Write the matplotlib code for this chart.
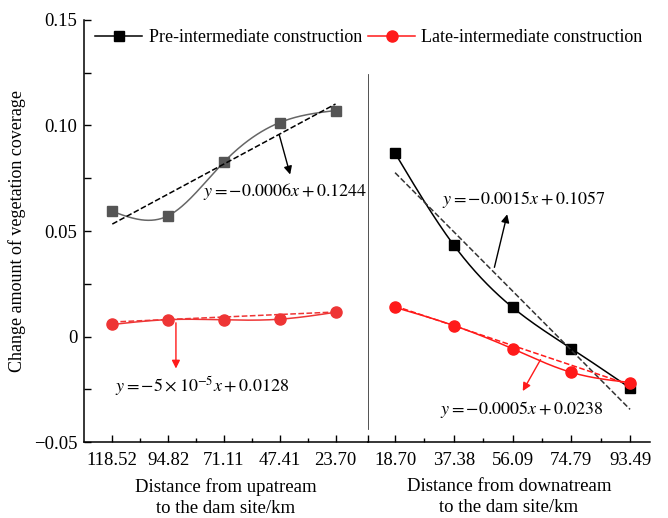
import numpy as np
import matplotlib.pyplot as plt
from matplotlib.ticker import FixedLocator

plt.rcParams['font.family'] = ['Liberation Serif', 'DejaVu Serif']
plt.rcParams['mathtext.fontset'] = 'stix'
plt.rcParams['font.size'] = 13

# data
up_labels = ['118.52', '94.82', '71.11', '47.41', '23.70']
down_labels = ['18.70', '37.38', '56.09', '74.79', '93.49']
up_dist = np.array([118.52, 94.82, 71.11, 47.41, 23.70])
down_dist = np.array([18.70, 37.38, 56.09, 74.79, 93.49])

up_pre = [0.0593, 0.0572, 0.0827, 0.1014, 0.1071]
up_late = [0.0057, 0.0080, 0.0079, 0.0082, 0.0115]
down_pre = [0.0869, 0.0433, 0.0138, -0.0057, -0.0244]
down_late = [0.0138, 0.0052, -0.0058, -0.0170, -0.0218]

# linear fits (slope, intercept) as printed on the chart
fit_up_pre = (-0.0006, 0.1244)
fit_up_late = (-5e-5, 0.0128)
fit_down_pre = (-0.0015, 0.1057)
fit_down_late = (-0.0005, 0.0238)


def spline(x, y, n=200):
    # natural cubic spline
    x = np.asarray(x, float); y = np.asarray(y, float)
    k = len(x)
    h = np.diff(x)
    A = np.zeros((k, k)); r = np.zeros(k)
    A[0, 0] = A[-1, -1] = 1
    for i in range(1, k - 1):
        A[i, i-1] = h[i-1]; A[i, i] = 2*(h[i-1]+h[i]); A[i, i+1] = h[i]
        r[i] = 3*((y[i+1]-y[i])/h[i] - (y[i]-y[i-1])/h[i-1])
    c = np.linalg.solve(A, r)
    xs = np.linspace(x[0], x[-1], n)
    idx = np.clip(np.searchsorted(x, xs) - 1, 0, k - 2)
    dx = xs - x[idx]
    b = (y[1:]-y[:-1])/h - h*(2*c[:-1]+c[1:])/3
    d = (c[1:]-c[:-1])/(3*h)
    ys = y[idx] + b[idx]*dx + c[idx]*dx**2 + d[idx]*dx**3
    return xs, ys


fig = plt.figure(figsize=(6.68, 5.18), dpi=100)
axL = fig.add_axes([0.1262, 0.1467, 0.4243, 0.8147])
axR = fig.add_axes([0.5505, 0.1467, 0.4226, 0.8147])

pos = np.arange(5)
gray = '#555555'
red = '#ff1a1a'
red_l = '#ee3535'

# left panel
xs, ys = spline(pos, up_pre)
axL.plot(xs, ys, color='#666666', lw=1.1)
axL.plot(pos, up_pre, 's', color=gray, ms=7.5)
axL.plot(pos, fit_up_pre[0]*up_dist + fit_up_pre[1], '--', color='black', lw=1.1)
xs, ys = spline(pos, up_late)
axL.plot(xs, ys, color=red_l, lw=1.1)
axL.plot(pos, up_late, 'o', color=red_l, ms=8)
axL.plot(pos, fit_up_late[0]*up_dist + fit_up_late[1], '--', color=red_l, lw=1.1)

# right panel
xs, ys = spline(pos, down_pre)
axR.plot(xs, ys, color='black', lw=1.1)
axR.plot(pos, down_pre, 's', color='black', ms=7.5)
axR.plot(pos, fit_down_pre[0]*down_dist + fit_down_pre[1], '--', color='#333333', lw=1.1)
xs, ys = spline(pos, down_late)
axR.plot(xs, ys, color=red, lw=1.1)
axR.plot(pos, down_late, 'o', color=red, ms=8)
axR.plot(pos, fit_down_late[0]*down_dist + fit_down_late[1], '--', color=red, lw=1.1)

axL.set_xlim(-0.502, 4.577)
axR.set_xlim(-0.465, 4.34)
for ax in (axL, axR):
    ax.set_ylim(-0.05, 0.15)
    ax.xaxis.set_minor_locator(FixedLocator([0.5, 1.5, 2.5, 3.5]))
    ax.spines['top'].set_visible(False)
    ax.spines['right'].set_visible(False)
    ax.patch.set_alpha(0)
    ax.tick_params(axis='both', which='major', direction='in', length=5, width=1,
                   labelsize=13.5)
    ax.tick_params(axis='x', which='major', pad=7)
    ax.tick_params(axis='both', which='minor', direction='in', length=3, width=1)
    for s in ax.spines.values():
        s.set_linewidth(1.1)

axL.set_xticks(pos)
axL.set_xticklabels(up_labels)
axL.set_yticks([-0.05, 0, 0.05, 0.10, 0.15])
axL.set_yticklabels(['\u22120.05', '0', '0.05', '0.10', '0.15'])
axL.yaxis.set_minor_locator(FixedLocator([-0.025, 0.025, 0.075, 0.125]))
axL.tick_params(axis='y', which='minor', length=5)
axL.tick_params(axis='y', which='major', pad=5)
axR.spines['left'].set_visible(False)
axR.tick_params(axis='y', which='both', left=False, labelleft=False)
axR.set_xticks(list(pos) + [-0.465])
axR.set_xticklabels(down_labels + [''])

# divider
axR.axvline(-0.465, ymin=0.031, ymax=0.87, color='#444444', lw=1.3)

axL.set_ylabel('Change amount of vegetation coverage', fontsize=13, labelpad=6)
axL.set_xlabel('Distance from upatream\nto the dam site/km', fontsize=13.5, labelpad=7,
               linespacing=1.3)
axR.set_xlabel('Distance from downatream\nto the dam site/km', fontsize=13.5, labelpad=7,
               linespacing=1.3)

# legend
h1, = axL.plot([], [], '-s', color='black', ms=7, lw=1.1)
h2, = axL.plot([], [], '-o', color=red, ms=8, lw=1.1)
fig.legend([h1, h2], ['Pre-intermediate construction', 'Late-intermediate construction'],
           loc='center', bbox_to_anchor=(369 / 668, 1 - 38 / 518), ncol=2, frameon=False,
           fontsize=13, handlelength=2.6, columnspacing=0.35, handletextpad=0.35)

# annotations
axL.annotate('', xy=(3.2, 0.0755), xytext=(2.98, 0.0967),
             arrowprops=dict(arrowstyle='-|>', color='black', lw=1, mutation_scale=12))
axL.text(1.62, 0.0685, r'$y=-0.0006x+0.1244$', fontsize=13, va='center')
axL.annotate('', xy=(1.14, -0.0165), xytext=(1.14, 0.0078),
             arrowprops=dict(arrowstyle='-|>', color=red, lw=1, mutation_scale=12))
axL.text(0.05, -0.0235, r'$y=-5\times10^{-5}x+0.0128$', fontsize=13, va='center')
axR.annotate('', xy=(1.92, 0.0592), xytext=(1.68, 0.0315),
             arrowprops=dict(arrowstyle='-|>', color='black', lw=1, mutation_scale=12))
axR.text(0.8, 0.065, r'$y=-0.0015x+0.1057$', fontsize=13, va='center')
axR.annotate('', xy=(2.15, -0.027), xytext=(2.5, -0.0098),
             arrowprops=dict(arrowstyle='-|>', color=red, lw=1, mutation_scale=12))
axR.text(0.77, -0.0345, r'$y=-0.0005x+0.0238$', fontsize=13, va='center')

fig.savefig('out.png', dpi=100)
